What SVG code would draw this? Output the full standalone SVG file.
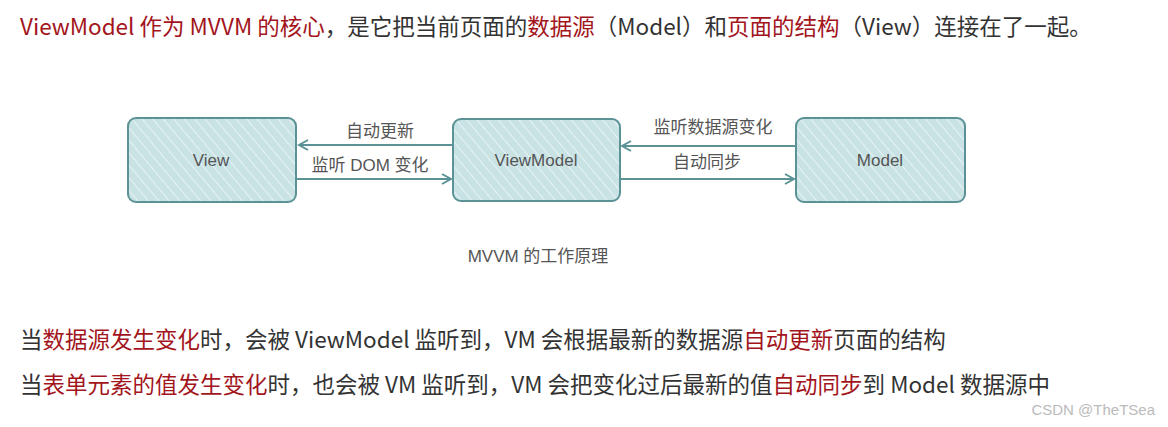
<svg xmlns="http://www.w3.org/2000/svg" width="1168" height="427" viewBox="0 0 1168 427">
<style>
.t{font-family:"Noto Sans CJK SC","Noto Sans",sans-serif;font-size:22.5px;fill:#333}
.r{fill:#a3151c}
.d{font-family:"Liberation Sans","Noto Sans CJK SC",sans-serif;font-size:17px;fill:#555}
.box{fill:url(#h);stroke:#5b9296;stroke-width:2}
.c{stroke:#5b9296;stroke-width:2;fill:none;marker-end:url(#a)}
</style>
<defs>
<pattern id="h" width="8" height="8" patternUnits="userSpaceOnUse" patternTransform="rotate(-40)">
<rect width="8" height="8" fill="#c9e3e5"/>
<line x1="0" y1="0" x2="0" y2="8" stroke="#e6f2f3" stroke-width="2"/>
</pattern>
<marker id="a" markerWidth="12" markerHeight="12" refX="10" refY="6" orient="auto" markerUnits="userSpaceOnUse">
<path d="M1,1 L10,6 L1,11" fill="none" stroke="#5b9296" stroke-width="2"/>
</marker>
</defs>
<rect width="1168" height="427" fill="#fff"/>
<text x="20" y="35" class="t"><tspan class="r">ViewModel 作为 MVVM 的核心</tspan>，是它把当前页面的<tspan class="r">数据源</tspan>（Model）和<tspan class="r">页面的结构</tspan>（View）连接在了一起。</text>
<g id="view"><rect class="box" x="128" y="118" width="168" height="84" rx="8"/><text class="d" x="211" y="166" text-anchor="middle">View</text></g>
<g id="viewmodel"><rect class="box" x="453" y="119" width="167" height="82" rx="8"/><text class="d" x="536" y="166" text-anchor="middle">ViewModel</text></g>
<g id="model"><rect class="box" x="796" y="118" width="169" height="84" rx="8"/><text class="d" x="880" y="166" text-anchor="middle">Model</text></g>
<g id="connectors">
<line class="c" x1="452" y1="145" x2="299" y2="145"/>
<line class="c" x1="297" y1="179" x2="451" y2="179"/>
<line class="c" x1="795" y1="146" x2="622" y2="146"/>
<line class="c" x1="621" y1="179" x2="794" y2="179"/>
<text class="d" x="380" y="137" text-anchor="middle">自动更新</text>
<text class="d" x="370" y="171" text-anchor="middle">监听 DOM 变化</text>
<text class="d" x="713" y="133" text-anchor="middle">监听数据源变化</text>
<text class="d" x="707" y="168" text-anchor="middle">自动同步</text>
</g>
<text class="d" x="538" y="262" text-anchor="middle" font-size="18">MVVM 的工作原理</text>
<text x="20" y="348" class="t">当<tspan class="r">数据源发生变化</tspan>时，会被 ViewModel 监听到，VM 会根据最新的数据源<tspan class="r">自动更新</tspan>页面的结构</text>
<text x="20" y="393" class="t">当<tspan class="r">表单元素的值发生变化</tspan>时，也会被 VM 监听到，VM 会把变化过后最新的值<tspan class="r">自动同步</tspan>到 Model 数据源中</text>
<text x="1155" y="415" text-anchor="end" font-family="Liberation Sans,sans-serif" font-size="15" fill="#bbb">CSDN @TheTSea</text>
</svg>
